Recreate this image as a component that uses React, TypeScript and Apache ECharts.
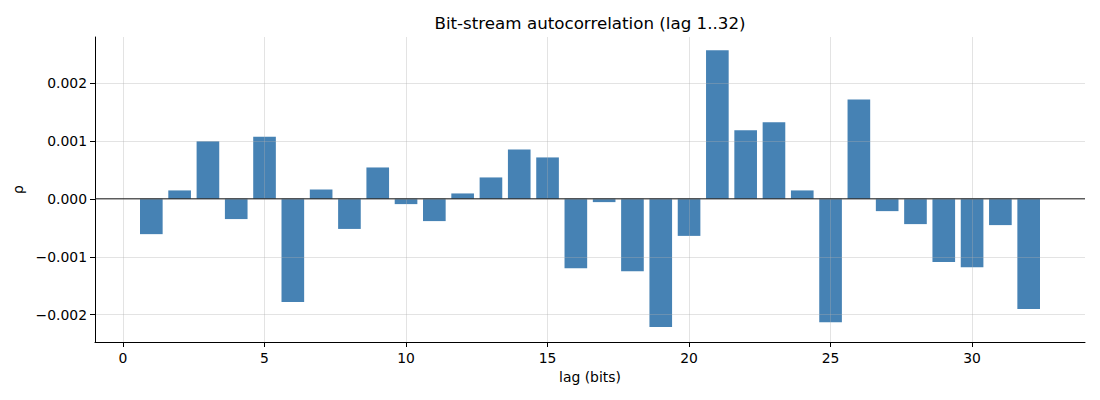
import React, { useEffect, useRef } from "react";
import * as echarts from "echarts";

const lags: number[] = [
  1, 2, 3, 4, 5, 6, 7, 8, 9, 10, 11, 12, 13, 14, 15, 16,
  17, 18, 19, 20, 21, 22, 23, 24, 25, 26, 27, 28, 29, 30, 31, 32,
];
const rho: number[] = [
  -0.00061, 0.000144, 0.00099, -0.00035, 0.00107, -0.00178, 0.00016, -0.00052,
  0.00054, -0.000092, -0.000385, 0.000092, 0.000368, 0.00085, 0.000713, -0.0012,
  -0.0000575, -0.00125, -0.00221, -0.00064, 0.00256, 0.00118, 0.00132, 0.000144,
  -0.00213, 0.00171, -0.000213, -0.000437, -0.00109, -0.00118, -0.000454, -0.0019,
];
const xTicks: number[] = [0, 5, 10, 15, 20, 25, 30];
const yTicks: number[] = [-0.002, -0.001, 0, 0.001, 0.002];

const FONT = "DejaVu Sans";

export default function App() {
  const ref = useRef<HTMLDivElement>(null);
  useEffect(() => {
    document.body.style.margin = "0";
    const chart = echarts.init(ref.current!, undefined, { renderer: "svg" });
    const data = lags.map((l, i) => [l, rho[i]]);
    chart.setOption({
      animation: false,
      backgroundColor: "#ffffff",
      title: {
        text: "Bit-stream autocorrelation (lag 1..32)",
        left: 590,
        top: 14,
        textAlign: "center",
        padding: 0,
        textStyle: { fontFamily: FONT, fontSize: 16.7, fontWeight: "normal", color: "#000" },
      },
      grid: { left: 95, right: 15, top: 37, bottom: 58, containLabel: false },
      xAxis: {
        type: "value",
        min: -0.99,
        max: 33.99,
        name: "lag (bits)",
        nameLocation: "middle",
        nameGap: 28,
        nameTextStyle: { fontFamily: FONT, fontSize: 13.9, color: "#000" },
        axisLine: { show: true, onZero: false, lineStyle: { color: "#000", width: 1 } },
        axisTick: { show: true, inside: false, length: 5, customValues: xTicks, lineStyle: { color: "#000", width: 1 } },
        axisLabel: {
          customValues: xTicks,
          margin: 9,
          fontFamily: FONT,
          fontSize: 13.9,
          color: "#000",
          formatter: (v: number) => String(v),
        },
        splitLine: { show: true, lineStyle: { color: "rgba(176,176,176,0.35)", width: 1 } },
      },
      yAxis: {
        type: "value",
        min: -0.00247,
        max: 0.00279,
        name: "ρ",
        nameLocation: "middle",
        nameGap: 70,
        nameRotate: 90,
        nameTextStyle: { fontFamily: FONT, fontSize: 13.9, color: "#000" },
        axisLine: { show: true, onZero: false, lineStyle: { color: "#000", width: 1 } },
        axisTick: { show: true, inside: false, length: 5, customValues: yTicks, lineStyle: { color: "#000", width: 1 } },
        axisLabel: {
          customValues: yTicks,
          margin: 8,
          fontFamily: FONT,
          fontSize: 13.9,
          color: "#000",
          formatter: (v: number) => (v < -1e-12 ? "\u2212" : "") + Math.abs(v).toFixed(3),
        },
        splitLine: { show: true, lineStyle: { color: "rgba(176,176,176,0.35)", width: 1 } },
      },
      series: [
        {
          type: "custom",
          z: -1,
          data,
          encode: { x: 0, y: 1 },
          renderItem: (params: any, api: any) => {
            const x = api.value(0);
            const y = api.value(1);
            const p0 = api.coord([x - 0.4, 0]);
            const p1 = api.coord([x + 0.4, y]);
            return {
              type: "rect",
              shape: {
                x: p0[0],
                y: Math.min(p0[1], p1[1]),
                width: p1[0] - p0[0],
                height: Math.abs(p1[1] - p0[1]),
              },
              style: { fill: "#4682B4" },
            };
          },
        },
        {
          type: "line",
          data: [
            [-0.99, 0],
            [33.99, 0],
          ],
          showSymbol: false,
          symbol: "none",
          silent: true,
          lineStyle: { color: "#222", width: 1 },
          z: 5,
        },
      ],
    });
    return () => chart.dispose();
  }, []);
  return <div ref={ref} style={{ width: 1100, height: 400 }} />;
}
